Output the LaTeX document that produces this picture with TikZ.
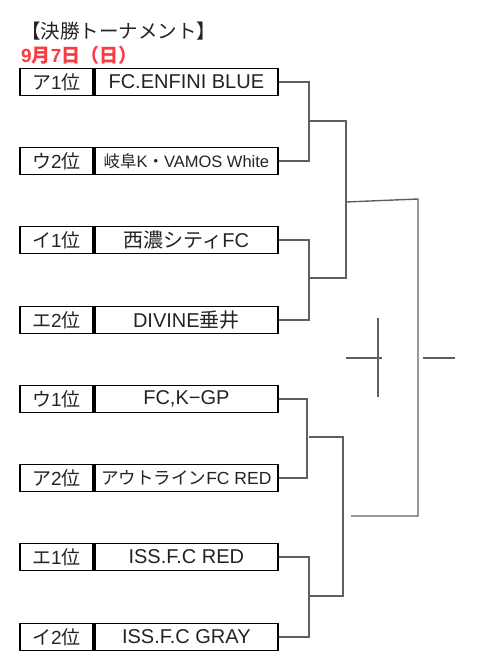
\documentclass[tikz,border=0pt]{standalone}
\usepackage{fontspec}
\setmainfont{Liberation Sans}
\newfontfamily\jp{Noto Sans CJK JP}
\usetikzlibrary{positioning,calc}

\begin{document}
\begin{tikzpicture}[x=1pt,y=-1pt,line cap=butt]
  % ----- styles & colors -----
  \definecolor{datered}{RGB}{250,60,65}
  \definecolor{bracket}{RGB}{95,95,95}
  \definecolor{ink}{RGB}{35,35,35}
  \tikzset{
    rankbox/.style={draw=black,line width=1.9pt,minimum width=73pt,minimum height=27pt,inner sep=0pt,text=ink,font=\fontsize{19}{19}\selectfont},
    teambox/.style={draw=black,line width=1.9pt,minimum width=183pt,minimum height=27pt,inner sep=0pt,text=ink,font=\fontsize{20}{20}\selectfont},
    bline/.style={draw=bracket,line width=1.4pt}
  }
  \useasboundingbox (0,0) rectangle (500,667);

  % ----- heading -----
  \node[anchor=west,inner sep=0pt,text=ink,font=\fontsize{19.5}{19.5}\selectfont\jp] (title) at (21,31) {【決勝トーナメント】};
  \node[anchor=west,inner sep=0pt,text=datered,font=\fontsize{19}{19}\selectfont\bfseries] (date) at (21,55) {9{\jp 月}7{\jp 日（日）}};

  % ----- the eight entries -----
  \foreach \i/\y/\rank/\team in {1/82/{\jp ア}1{\jp 位}/FC.ENFINI BLUE,
                                 2/161/{\jp ウ}2{\jp 位}/{\fontsize{16.5}{16.5}\selectfont{\jp 岐阜}K{\jp ・}VAMOS White},
                                 3/240/{\jp イ}1{\jp 位}/{\jp 西濃シティ}FC,
                                 4/320/{\jp エ}2{\jp 位}/DIVINE{\jp 垂井},
                                 5/399/{\jp ウ}1{\jp 位}/{FC,K−GP},
                                 6/478/{\jp ア}2{\jp 位}/{\fontsize{17.5}{17.5}\selectfont{\jp アウトライン}FC RED},
                                 7/557/{\jp エ}1{\jp 位}/ISS.F.C RED,
                                 8/637/{\jp イ}2{\jp 位}/ISS.F.C GRAY}{
    \node[rankbox,anchor=west] (r\i) at (19,\y) {\rank};
    \node[teambox,right=0pt of r\i] (t\i) {\team};
  }

  % ----- first round -----
  \coordinate (q1) at (309,121);
  \coordinate (q2) at (309,278);
  \coordinate (q3) at (309,437);
  \coordinate (q4) at (309,596);
  \draw[bline] (t1.east) -| (q1) |- (t2.east);
  \draw[bline] (t3.east) -| (q2) |- (t4.east);
  \draw[bline] (t5.east) -| (307,437) |- (t6.east);
  \draw[bline] (t7.east) -| (q4) |- (t8.east);

  % ----- semi finals -----
  \coordinate (s1) at (346,202);
  \coordinate (s2) at (343,516);
  \draw[bline] (q1) -| (s1) |- (q2);
  \draw[bline] (q3) -| (s2) |- (q4);

  % ----- final -----
  \coordinate (f1) at (418,199);
  \coordinate (f2) at (418,516);
  \draw[bline] (s1) -- (f1) -- (f2) -- (351,516);

  % ----- winner mark -----
  \draw[bline] (378,318) -- (378,397);
  \draw[bline] (346,358) -- (382,358);
  \draw[bline] (423,358) -- (455,358);
\end{tikzpicture}
\end{document}
